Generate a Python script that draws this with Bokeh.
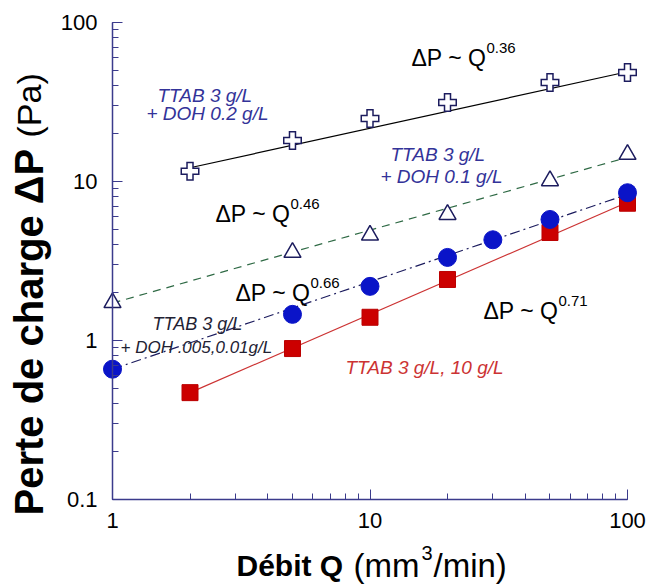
import math
from bokeh.plotting import figure
from bokeh.models import Range1d, Label, CustomJSTickFormatter
from bokeh.embed import file_html
from bokeh.resources import INLINE

# ---------------- data ----------------
q_cross = [2, 5, 10, 20, 50, 100]
dp_cross = [11.6, 18.1, 24.9, 31.4, 42.0, 48.5]

q_tri = [1, 5, 10, 20, 50, 100]
dp_tri = [1.73, 3.58, 4.6, 6.2, 10.1, 14.8]

q_circ = [1, 5, 10, 20, 30, 50, 100]
dp_circ = [0.66, 1.46, 2.19, 3.33, 4.3, 5.77, 8.5]

q_sq = [2, 5, 10, 20, 50, 100]
dp_sq = [0.47, 0.89, 1.40, 2.42, 4.78, 7.3]

# power-law fit lines (end points)
fit_cross_q = [2, 100]
fit_cross_dp = [12.2, 49.0]
fit_tri_q = [1, 100]
fit_tri_dp = [1.72, 14.2]
fit_circ_q = [1, 100]
fit_circ_dp = [0.66, 8.3]
fit_sq_q = [2, 100]
fit_sq_dp = [0.47, 7.4]

x_tick_vals = [1, 10, 100]
x_tick_labels = ["1", "10", "100"]
y_tick_vals = [0.1, 1, 10, 100]
y_tick_labels = ["0.1", "1", "10", "100"]

FONT = "Liberation Sans"
AXIS_COL = "#3b3b8c"
NAVY = "#1c1c5e"

W, H = 649, 585

# map picture pixel positions to data coords (layout helper)
def X(px):
    return 10 ** (2 * (px - 112) / 515.0)

def Y(py):
    return 10 ** (2 - 3 * (py - 22) / 477.0)

# ---------------- figure: frame covers the whole canvas ----------------
p = figure(width=W, height=H, x_axis_type="log", y_axis_type="log",
           x_range=Range1d(X(0), X(W)), y_range=Range1d(Y(H), Y(0)),
           output_backend="svg", toolbar_location=None,
           min_border_left=0, min_border_right=0, min_border_top=0, min_border_bottom=0)
p.background_fill_color = "white"
p.border_fill_color = "white"
p.outline_line_color = None
p.xgrid.visible = False
p.ygrid.visible = False

for ax, vals, labs, loc, bnds in ((p.xaxis[0], x_tick_vals, x_tick_labels, y_tick_vals[0], (1, 100)),
                                  (p.yaxis[0], y_tick_vals, y_tick_labels, x_tick_vals[0], (0.1, 100))):
    ax.fixed_location = loc
    ax.bounds = bnds
    ax.axis_line_color = AXIS_COL
    ax.axis_line_width = 1.5
    ax.major_tick_line_color = AXIS_COL
    ax.minor_tick_line_color = AXIS_COL
    ax.major_tick_in = 10
    ax.major_tick_out = 0
    ax.minor_tick_in = 6
    ax.minor_tick_out = 0
    ax.major_label_text_font = FONT
    ax.major_label_text_font_size = "22px"
    ax.major_label_text_color = "black"
    ax.formatter = CustomJSTickFormatter(args=dict(vals=vals, labels=labs), code="""
        const i = vals.findIndex(v => Math.abs(Math.log10(v) - Math.log10(tick)) < 1e-6);
        return i >= 0 ? labels[i] : '';
    """)
p.xaxis.major_label_standoff = 13
p.yaxis.major_label_standoff = 15

# ---------------- fit lines ----------------
p.line(fit_cross_q, fit_cross_dp, line_color="black", line_width=1.2)
p.line(fit_tri_q, fit_tri_dp, line_color="#2f6a45", line_width=1.2, line_dash="8 6")
p.line(fit_circ_q, fit_circ_dp, line_color=NAVY, line_width=1.2, line_dash="10 4 2 4")
p.line(fit_sq_q, fit_sq_dp, line_color="#cc3333", line_width=1.2)

# ---------------- markers ----------------
p.scatter(q_cross, dp_cross, marker="cross", size=19, line_width=7.5, line_color=NAVY)
p.scatter(q_cross, dp_cross, marker="cross", size=16, line_width=4.5, line_color="white")
p.scatter(q_tri, dp_tri, marker="triangle", size=17, fill_color="white",
          line_color=NAVY, line_width=1.5)
p.scatter(q_sq, dp_sq, marker="square", size=16, fill_color="#cc0000", line_color="#bb0000")
p.scatter(q_circ, dp_circ, marker="circle", size=18, fill_color="#0a14c8", line_color="#0a14c8")

# ---------------- texts ----------------
def lab(text, px, py, size, color="black", style="normal", angle=0.0):
    p.add_layout(Label(x=X(px), y=Y(py), text=text, text_font=FONT,
                       text_font_size=f"{size}px", text_color=color,
                       text_font_style=style, text_align="left",
                       text_baseline="middle", angle=angle))

# power-law annotations
for main_px, main_py, sup in ((411, 57, "0.36"), (215, 213, "0.46"),
                              (235, 292, "0.66"), (483, 310, "0.71")):
    lab("ΔP ~ Q", main_px, main_py, 23)
    lab(sup, main_px + 75, main_py - 10, 15)

BLUE_TXT = "#333399"
lab("TTAB 3 g/L", 157, 95, 19, BLUE_TXT, "italic")
lab("+ DOH 0.2 g/L", 146, 113, 19, BLUE_TXT, "italic")
lab("TTAB 3 g/L", 390, 154, 19, BLUE_TXT, "italic")
lab("+ DOH 0.1 g/L", 380, 176, 19, BLUE_TXT, "italic")
lab("TTAB 3 g/L", 152, 323, 18, "#222233", "italic")
lab("+ DOH .005,0.01g/L", 120, 347, 17, "#222233", "italic")
lab("TTAB 3 g/L, 10 g/L", 345, 367, 19, "#cc3333", "italic")

# axis titles
lab("Débit Q", 236, 565, 30, "black", "bold")
lab("(mm", 353, 565, 33)
lab("3", 421, 552, 20)
lab("/min)", 433, 565, 33)

lab("Perte de charge ΔP", 28, 515, 40, "black", "bold", angle=math.pi / 2)
lab("(Pa)", 28, 137, 34, "black", "normal", angle=math.pi / 2)

open("out.html", "w").write(file_html(p, INLINE))
